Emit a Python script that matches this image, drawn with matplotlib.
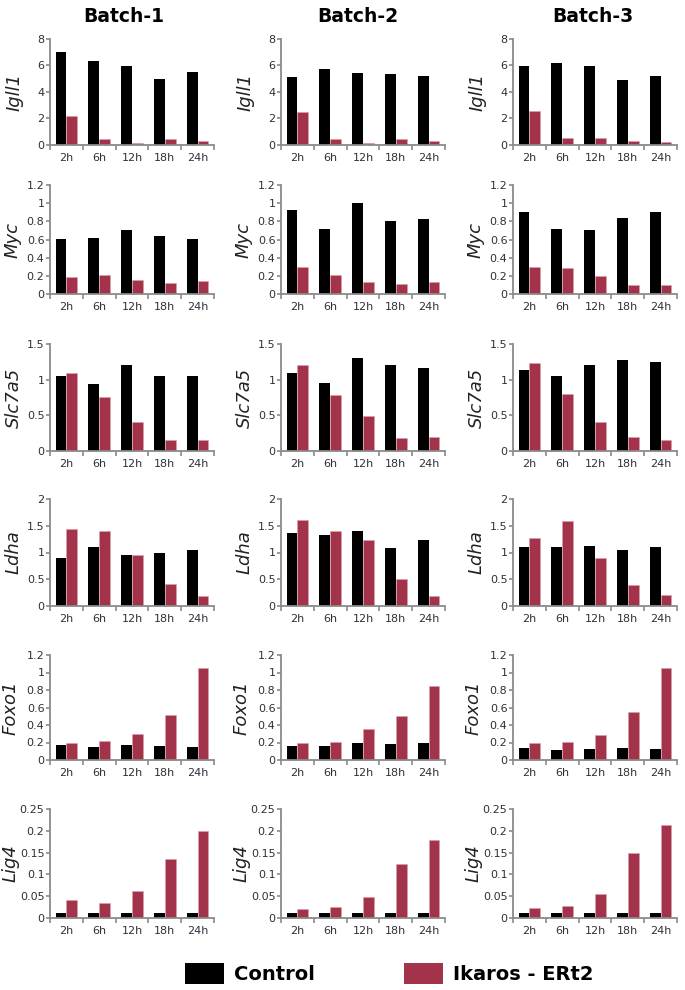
import numpy as np
import matplotlib
matplotlib.use("Agg")
import matplotlib.pyplot as plt
from matplotlib.patches import Patch
from matplotlib.ticker import FuncFormatter

times = ["2h", "6h", "12h", "18h", "24h"]
batches = ["Batch-1", "Batch-2", "Batch-3"]
genes = ["Igll1", "Myc", "Slc7a5", "Ldha", "Foxo1", "Lig4"]

# control / ikaros values, one row per batch
igll1_ctrl = [[7.0, 6.35, 5.95, 5.0, 5.5], [5.13, 5.75, 5.45, 5.38, 5.23], [5.96, 6.16, 5.96, 4.88, 5.18]]
igll1_ik = [[2.2, 0.47, 0.15, 0.47, 0.32], [2.5, 0.46, 0.15, 0.46, 0.29], [2.6, 0.54, 0.54, 0.32, 0.25]]
myc_ctrl = [[0.61, 0.62, 0.70, 0.64, 0.61], [0.92, 0.72, 1.0, 0.80, 0.83], [0.90, 0.72, 0.70, 0.84, 0.90]]
myc_ik = [[0.19, 0.21, 0.15, 0.125, 0.14], [0.30, 0.21, 0.13, 0.105, 0.13], [0.30, 0.29, 0.20, 0.10, 0.10]]
slc_ctrl = [[1.05, 0.94, 1.20, 1.05, 1.05], [1.10, 0.96, 1.31, 1.20, 1.16], [1.13, 1.05, 1.20, 1.27, 1.25]]
slc_ik = [[1.10, 0.76, 0.41, 0.16, 0.15], [1.20, 0.78, 0.49, 0.18, 0.20], [1.24, 0.80, 0.40, 0.19, 0.15]]
ldha_ctrl = [[0.89, 1.11, 0.95, 0.99, 1.05], [1.36, 1.32, 1.40, 1.09, 1.24], [1.10, 1.10, 1.12, 1.05, 1.10]]
ldha_ik = [[1.44, 1.40, 0.95, 0.41, 0.19], [1.60, 1.40, 1.23, 0.50, 0.19], [1.27, 1.59, 0.89, 0.40, 0.21]]
foxo_ctrl = [[0.17, 0.15, 0.17, 0.16, 0.15], [0.155, 0.155, 0.19, 0.18, 0.19], [0.14, 0.12, 0.13, 0.14, 0.13]]
foxo_ik = [[0.19, 0.22, 0.30, 0.51, 1.05], [0.19, 0.21, 0.35, 0.50, 0.85], [0.20, 0.21, 0.29, 0.55, 1.05]]
lig4_ctrl = [[0.011, 0.011, 0.011, 0.011, 0.011], [0.0115, 0.0115, 0.0115, 0.0115, 0.0115], [0.011, 0.011, 0.011, 0.011, 0.011]]
lig4_ik = [[0.041, 0.035, 0.061, 0.135, 0.199], [0.020, 0.025, 0.049, 0.124, 0.179], [0.023, 0.028, 0.054, 0.149, 0.214]]

ctrl_all = [igll1_ctrl, myc_ctrl, slc_ctrl, ldha_ctrl, foxo_ctrl, lig4_ctrl]
ik_all = [igll1_ik, myc_ik, slc_ik, ldha_ik, foxo_ik, lig4_ik]
yticks_all = [[0, 2, 4, 6, 8],
              [0, 0.2, 0.4, 0.6, 0.8, 1, 1.2],
              [0, 0.5, 1, 1.5],
              [0, 0.5, 1, 1.5, 2],
              [0, 0.2, 0.4, 0.6, 0.8, 1, 1.2],
              [0, 0.05, 0.1, 0.15, 0.2, 0.25]]

red = "#a3324b"
spine_c = "#8a8a8a"
txt_c = "#30303a"

W, H = 685, 990
fig = plt.figure(figsize=(W / 100, H / 100), dpi=100)

col_left = [50, 281, 513]
col_w = 164
rows = [(39, 145), (185, 294), (344, 451), (499, 606), (655, 760), (809, 918)]
label_off = [26, 28, 27, 27, 30, 30]  # px from y axis to right edge of label
title_x = [124, 358, 593]

x = np.arange(len(times))
bw = 0.33

for c in range(3):
    fig.text(title_x[c] / W, 1 - 16 / H, batches[c], ha="center", va="center",
             fontsize=13.5, fontweight="bold")
    for r in range(6):
        top, bot = rows[r]
        ax = fig.add_axes([col_left[c] / W, 1 - bot / H, col_w / W, (bot - top) / H])
        ax.bar(x - bw / 2, ctrl_all[r][c], width=bw, color="black")
        ax.bar(x + bw / 2, ik_all[r][c], width=bw, color=red, edgecolor="#d9a0ab", linewidth=0.4)
        yt = yticks_all[r]
        ax.set_ylim(0, yt[-1])
        ax.set_yticks(yt)
        ax.yaxis.set_major_formatter(FuncFormatter(lambda v, p: "%g" % v))
        ax.set_xlim(-0.5, 4.5)
        ax.set_xticks(x)
        ax.set_xticklabels(times)
        ax.set_xticks(np.arange(-0.5, 5, 1), minor=True)
        ax.tick_params(axis="x", which="major", length=0, pad=6, labelsize=8, labelcolor=txt_c)
        ax.tick_params(axis="x", which="minor", length=3.5, width=1.2, color=spine_c, direction="out")
        ax.tick_params(axis="y", length=3, width=1.2, color=spine_c, pad=1, labelsize=8, labelcolor=txt_c)
        for s in ["top", "right"]:
            ax.spines[s].set_visible(False)
        for s in ["left", "bottom"]:
            ax.spines[s].set_color(spine_c)
            ax.spines[s].set_linewidth(1.3)
        ax.set_ylabel(genes[r], fontsize=13, style="italic", color="#222222")
        ax.yaxis.set_label_coords(-label_off[r] / col_w, 0.5)

handles = [Patch(facecolor="black"), Patch(facecolor=red)]
fig.legend(handles, ["Control", "Ikaros - ERt2"], ncol=2, loc="lower center",
           bbox_to_anchor=(389 / W, -0.012), frameon=False, handlelength=2.0, handleheight=1.3,
           columnspacing=4.6, handletextpad=0.5, prop={"weight": "bold", "size": 14})

fig.savefig("out.png", dpi=100)
